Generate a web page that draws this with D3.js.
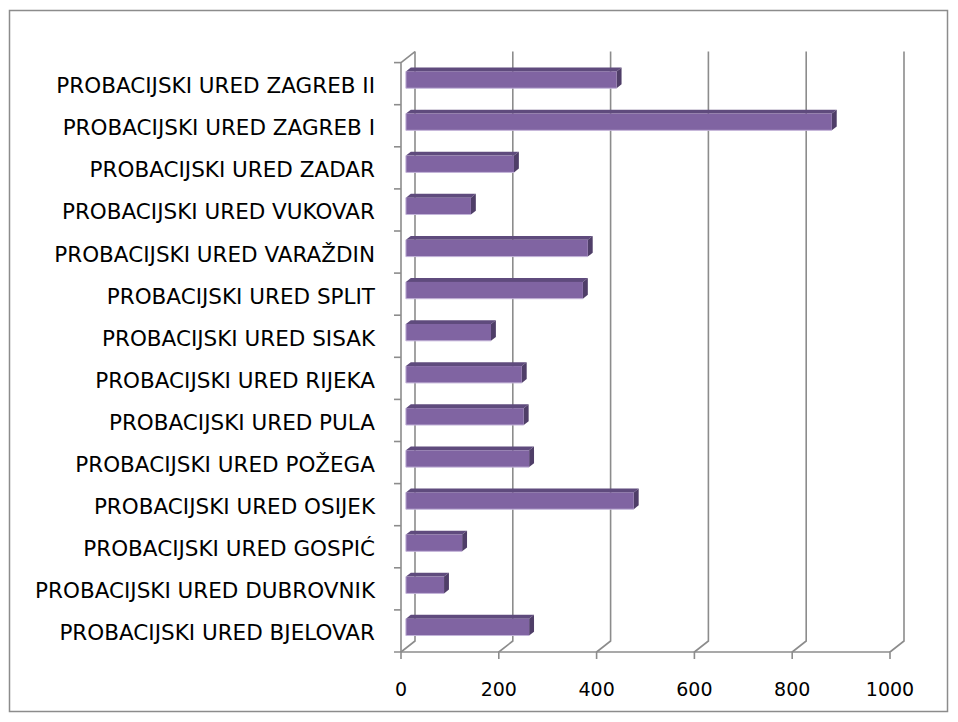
<!DOCTYPE html>
<html>
<head>
<meta charset="utf-8">
<script src="https://cdn.jsdelivr.net/npm/d3@7"></script>
<style>
    body { margin: 0; background: #fff; }
    text { font-family: "DejaVu Sans", sans-serif; fill: #000; }
</style>
</head>
<body>
<div id="chart"></div>
<script>
"use strict";

// categories top to bottom, as in the picture
const offices = [
    "PROBACIJSKI URED ZAGREB II",
    "PROBACIJSKI URED ZAGREB I",
    "PROBACIJSKI URED ZADAR",
    "PROBACIJSKI URED VUKOVAR",
    "PROBACIJSKI URED VARAŽDIN",
    "PROBACIJSKI URED SPLIT",
    "PROBACIJSKI URED SISAK",
    "PROBACIJSKI URED RIJEKA",
    "PROBACIJSKI URED PULA",
    "PROBACIJSKI URED POŽEGA",
    "PROBACIJSKI URED OSIJEK",
    "PROBACIJSKI URED GOSPIĆ",
    "PROBACIJSKI URED DUBROVNIK",
    "PROBACIJSKI URED BJELOVAR",
];
const counts = [431, 871, 221, 133, 372, 362, 174, 237, 241, 252, 466, 115, 78, 252];
const xTicks = [0, 200, 400, 600, 800, 1000];

const WIDTH = 958;
const HEIGHT = 722;
const LEFT = 401, RIGHT = 890, TOP = 62.6, BOTTOM = 652;
const DEPTH = [14, -11];          // back wall offset
const BAR_FRONT = 0.35, BAR_BACK = 0.7;
const GRID = "#8c8c8c";

const svg = d3.select("#chart").append("svg")
    .attr("width", WIDTH)
    .attr("height", HEIGHT);

svg.append("rect")
    .attr("x", 9.5).attr("y", 10.5)
    .attr("width", 938).attr("height", 701)
    .attr("fill", "#fff")
    .attr("stroke", GRID)
    .attr("stroke-width", 1.5);

const x = d3.scaleLinear().domain([0, 1000]).range([LEFT, RIGHT]);
const y = d3.scaleBand().domain(offices).range([TOP, BOTTOM]);

const data = offices.map((name, i) => ({ name: name, value: counts[i] }));

// back wall gridlines with the floor diagonal and the front tick
svg.append("g").selectAll("path")
    .data(xTicks)
    .join("path")
    .attr("d", t => `M${x(t)},${BOTTOM + 7}L${x(t)},${BOTTOM}` +
        `L${x(t) + DEPTH[0]},${BOTTOM + DEPTH[1]}L${x(t) + DEPTH[0]},${TOP + DEPTH[1]}`)
    .attr("fill", "none")
    .attr("stroke", GRID)
    .attr("stroke-width", 1.6);

// front axes
svg.append("path")
    .attr("d", `M${LEFT - 7},${BOTTOM}L${RIGHT},${BOTTOM}`)
    .attr("stroke", GRID).attr("stroke-width", 1.6);
svg.append("path")
    .attr("d", `M${LEFT},${BOTTOM}L${LEFT},${TOP}L${LEFT + DEPTH[0]},${TOP + DEPTH[1]}`)
    .attr("fill", "none")
    .attr("stroke", GRID).attr("stroke-width", 1.6);

// category ticks on band boundaries
svg.append("g").selectAll("line")
    .data(offices)
    .join("line")
    .attr("x1", LEFT - 7).attr("x2", LEFT)
    .attr("y1", d => y(d)).attr("y2", d => y(d))
    .attr("stroke", GRID).attr("stroke-width", 1.6);

// 3d bars
const barH = y.bandwidth() / 2.5;
const fx = DEPTH[0] * BAR_FRONT, fy = DEPTH[1] * BAR_FRONT;
const dx = DEPTH[0] * (BAR_BACK - BAR_FRONT), dy = DEPTH[1] * (BAR_BACK - BAR_FRONT);

const bars = svg.append("g").selectAll("g")
    .data(data)
    .join("g")
    .attr("transform", d => `translate(${fx},${y(d.name) + y.bandwidth() / 2 - barH / 2 + fy})`);

bars.append("path")
    .attr("d", d => `M${x(0)},0L${x(0) + dx},${dy}L${x(d.value) + dx},${dy}L${x(d.value)},0Z`)
    .attr("fill", "#5f4b7d");
bars.append("path")
    .attr("d", d => `M${x(d.value)},0L${x(d.value) + dx},${dy}L${x(d.value) + dx},${barH + dy}L${x(d.value)},${barH}Z`)
    .attr("fill", "#4f3e68");
bars.append("rect")
    .attr("x", x(0))
    .attr("width", d => x(d.value) - x(0))
    .attr("height", barH)
    .attr("fill", "#8064a2");
bars.append("path")
    .attr("d", d => `M${x(0)},0L${x(0)},${barH}L${x(d.value)},${barH}`)
    .attr("fill", "none")
    .attr("stroke", "#c3b4d8")
    .attr("stroke-width", 1);

// labels
svg.append("g").selectAll("text")
    .data(offices)
    .join("text")
    .attr("x", 375)
    .attr("y", d => y(d) + y.bandwidth() / 2 + 2)
    .attr("text-anchor", "end")
    .attr("dominant-baseline", "central")
    .attr("font-size", 21.5)
    .text(d => d);

svg.append("g").selectAll("text")
    .data(xTicks)
    .join("text")
    .attr("x", t => x(t))
    .attr("y", 689)
    .attr("text-anchor", "middle")
    .attr("dominant-baseline", "central")
    .attr("font-size", 19)
    .text(t => t);
</script>
</body>
</html>
